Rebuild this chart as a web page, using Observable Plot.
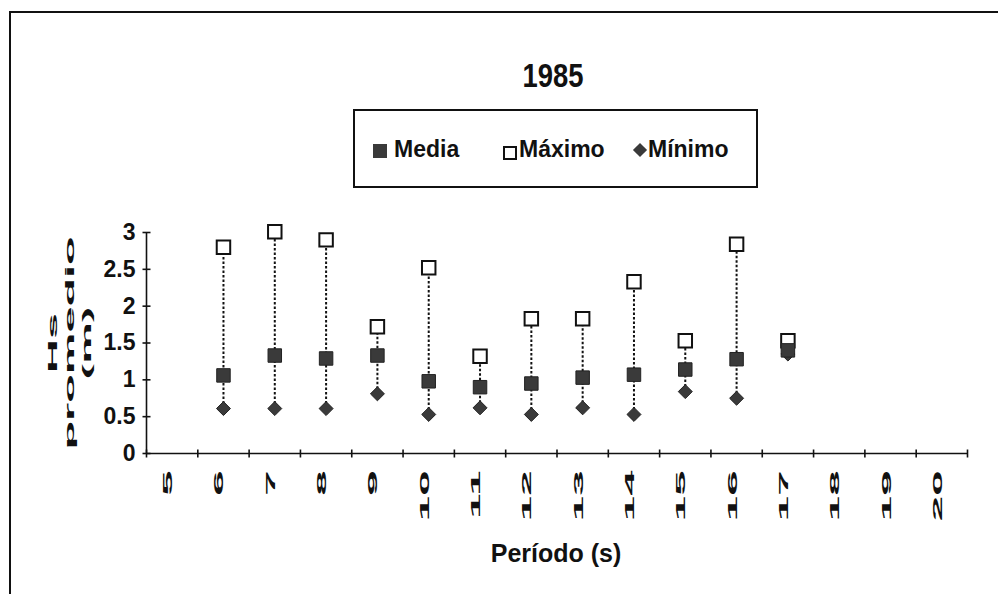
<!DOCTYPE html>
<html><head><meta charset="utf-8">
<script src="https://cdn.jsdelivr.net/npm/d3@7"></script>
<script src="https://cdn.jsdelivr.net/npm/@observablehq/plot@0.6"></script>
<style>
body{margin:0;background:#fff;font-family:"Liberation Sans",Arial,sans-serif;}
#wrap{position:relative;width:998px;height:594px;overflow:hidden;background:#fff}
#chart{position:absolute;left:0;top:0}
#border{position:absolute;left:9px;top:11px;width:1000px;height:600px;border-top:2px solid #111;border-left:2px solid #111}
#title{position:absolute;left:453px;width:200px;top:59px;text-align:center;font-weight:bold;font-size:33px;line-height:33px;color:#111;transform:scaleX(0.83)}
#legend{position:absolute;left:353px;top:109px;width:401px;height:75px;border:2px solid #111;}
.lt{position:absolute;font-size:23px;line-height:23px;font-weight:bold;color:#111;top:27px;white-space:nowrap}
.mk{position:absolute;box-sizing:border-box}
#xtitle{position:absolute;left:456px;width:200px;top:541px;text-align:center;font-size:25px;line-height:25px;font-weight:bold;color:#111}
</style></head>
<body>
<div id="wrap">
  <div id="chart"></div>
  <div id="border"></div>
  <div id="title"></div>
  <div id="legend">
    <div class="mk" style="left:18px;top:33px;width:14px;height:14px;background:#3a3a3a"></div>
    <div class="lt" id="l1" style="left:39px"></div>
    <div class="mk" style="left:148px;top:35px;width:14px;height:14px;border:2px solid #111;background:#fff"></div>
    <div class="lt" id="l2" style="left:164px"></div>
    <div class="mk" style="left:280px;top:34px;width:10px;height:10px;background:#3a3a3a;transform:rotate(45deg)"></div>
    <div class="lt" id="l3" style="left:293px"></div>
  </div>
  <div id="xtitle"></div>
</div>
<script>
// ---- data ----
const titleText = "1985";
const legendLabels = ["Media", "Máximo", "Mínimo"];
const xTitle = "Período (s)";
const yTitle = "Hs\npromedio\n(m)";
const periods = [5, 6, 7, 8, 9, 10, 11, 12, 13, 14, 15, 16, 17, 18, 19, 20];
const yTicks = [0, 0.5, 1, 1.5, 2, 2.5, 3];
const measuredPeriods = [6, 7, 8, 9, 10, 11, 12, 13, 14, 15, 16, 17];
const media  = [1.06, 1.33, 1.29, 1.33, 0.98, 0.90, 0.95, 1.03, 1.07, 1.14, 1.28, 1.40];
const maximo = [2.80, 3.01, 2.90, 1.72, 2.52, 1.32, 1.83, 1.83, 2.33, 1.53, 2.84, 1.53];
const minimo = [0.61, 0.61, 0.61, 0.81, 0.53, 0.62, 0.53, 0.62, 0.53, 0.84, 0.75, 1.35];

const rows = measuredPeriods.map((p, i) => ({p, media: media[i], max: maximo[i], min: minimo[i]}));
const boundaries = [periods[0] - 0.5, ...periods.map(p => p + 0.5)];

document.getElementById("title").textContent = titleText;
document.getElementById("l1").textContent = legendLabels[0];
document.getElementById("l2").textContent = legendLabels[1];
document.getElementById("l3").textContent = legendLabels[2];
document.getElementById("xtitle").textContent = xTitle;

const vline = {draw(ctx, size) { const r = Math.sqrt(size / Math.PI); ctx.moveTo(0, -r); ctx.lineTo(0, r); }};
const hline = {draw(ctx, size) { const r = Math.sqrt(size / Math.PI); ctx.moveTo(-r, 0); ctx.lineTo(r, 0); }};

const chart = Plot.plot({
  width: 998, height: 594,
  marginLeft: 146, marginRight: 31, marginTop: 232, marginBottom: 141,
  style: {fontFamily: "'Liberation Sans', Arial, sans-serif", background: "transparent", color: "#111"},
  x: {type: "linear", domain: [boundaries[0], boundaries[boundaries.length - 1]], axis: null},
  y: {domain: [0, 3], axis: null},
  marks: [
    Plot.ruleY([0], {stroke: "#111", strokeWidth: 1.6}),
    Plot.ruleX([boundaries[0]], {stroke: "#111", strokeWidth: 1.6}),
    Plot.dot(boundaries, {x: d => d, y: 0, symbol: vline, r: 4, stroke: "#111", fill: "none", strokeWidth: 1.6}),
    Plot.dot(yTicks, {x: boundaries[0], y: d => d, symbol: hline, r: 4, stroke: "#111", fill: "none", strokeWidth: 1.6}),
    Plot.axisY(yTicks, {anchor: "left", tickSize: 0, tickPadding: 11, fontSize: 23, fontWeight: "bold", label: null, tickFormat: d => String(d)}),
    Plot.text(periods, {x: d => d, frameAnchor: "bottom", text: d => String(d), rotate: -90, textAnchor: "end", dy: 17, fontSize: 12, fontWeight: "bold", fill: "#111"}),
    Plot.text([yTitle], {frameAnchor: "left", text: d => d, rotate: -90, textAnchor: "middle", dx: -78, fontSize: 12, fontWeight: "bold", lineHeight: 1.4, fill: "#111"}),
    Plot.ruleX(rows, {x: "p", y1: "min", y2: "max", stroke: "#111", strokeWidth: 2, strokeDasharray: "2.5,2"}),
    Plot.dot(rows, {x: "p", y: "max", symbol: "square", r: 7.6, fill: "#fff", stroke: "#111", strokeWidth: 2}),
    Plot.dot(rows, {x: "p", y: "min", symbol: "diamond2", r: 6.3, fill: "#3a3a3a", stroke: "#222", strokeWidth: 1}),
    Plot.dot(rows, {x: "p", y: "media", symbol: "square", r: 7.6, fill: "#3a3a3a", stroke: "#222", strokeWidth: 1})
  ]
});
document.getElementById("chart").appendChild(chart);

// stretch the rotated labels along their reading direction, as in the scanned original
chart.querySelectorAll("text").forEach(t => {
  let el = t;
  while (el && el !== chart && !(el.getAttribute("transform") || "").includes("rotate")) el = el.parentNode;
  if (!el || el === chart) return;
  const sx = t.textContent.includes("Hs") || t.textContent.includes("promedio") ? 3.9 : 3.8;
  el.setAttribute("transform", el.getAttribute("transform") + ` scale(${sx},1)`);
});
</script>
</body></html>
